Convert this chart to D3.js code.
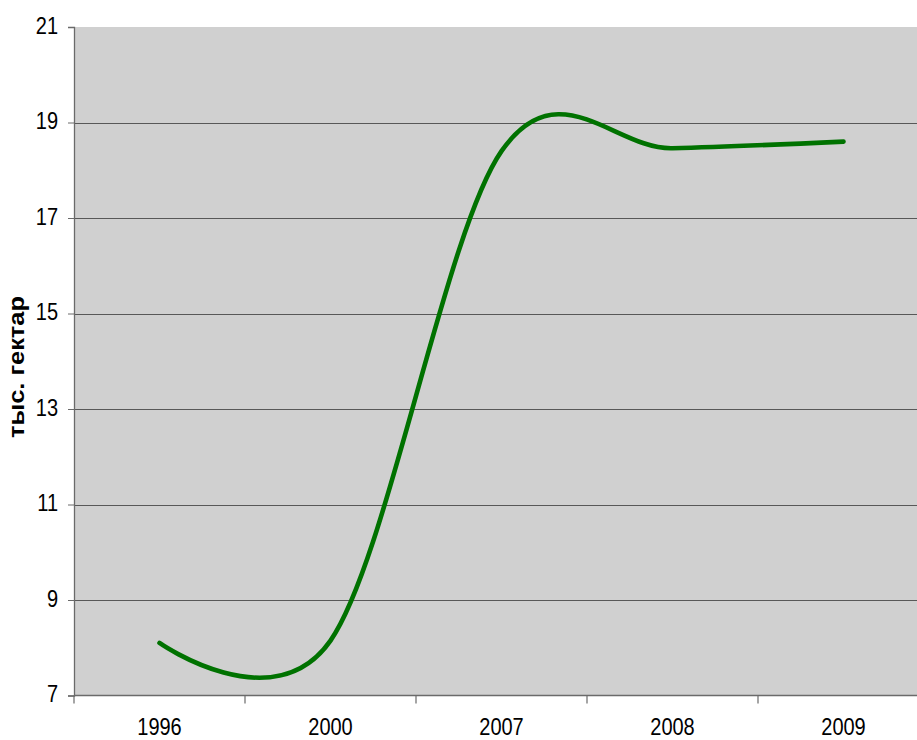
<!DOCTYPE html>
<html>
<head>
<meta charset="utf-8">
<script src="https://cdn.jsdelivr.net/npm/d3@7"></script>
<style>
  html, body { margin: 0; padding: 0; background: #ffffff; }
  svg { display: block; }
  text { font-family: "Liberation Sans", Arial, sans-serif; fill: #000; }
</style>
</head>
<body>
<svg id="chart" width="917" height="740"></svg>
<script>
// Площадь, тыс. гектар
const years = ["1996", "2000", "2007", "2008", "2009"];
const area = [8.1, 8.15, 18.4, 18.46, 18.6];
const yTicks = [7, 9, 11, 13, 15, 17, 19, 21];
const yTitle = "тыс. гектар";

const plotLeft = 74, plotRight = 929, plotTop = 27, plotBottom = 695.5;
const stretch = 1.2; // tall, narrow lettering
const labelSize = 20;

const svg = d3.select("#chart");

const x = d3.scaleBand().domain(years).range([plotLeft, plotRight]).padding(0);
const y = d3.scaleLinear().domain([7, 21]).range([plotBottom, plotTop]);

// plot background
svg.append("rect")
  .attr("x", plotLeft).attr("y", plotTop)
  .attr("width", plotRight - plotLeft).attr("height", plotBottom - plotTop)
  .attr("fill", "#d0d0d0");

// horizontal gridlines
svg.append("g")
  .selectAll("line")
  .data(yTicks.filter(v => v > 7 && v < 21))
  .join("line")
  .attr("x1", plotLeft).attr("x2", plotRight)
  .attr("y1", d => Math.round(y(d)) + 0.5).attr("y2", d => Math.round(y(d)) + 0.5)
  .attr("stroke", "#585858").attr("stroke-width", 1);

// y axis
const yAxis = svg.append("g")
  .attr("transform", `translate(${plotLeft},0)`)
  .call(d3.axisLeft(y).tickValues(yTicks).tickSize(6).tickPadding(10).tickFormat(d3.format("d")));
yAxis.select(".domain").attr("stroke", "#6a6a6a").attr("stroke-width", 1.3);
yAxis.selectAll(".tick line").attr("stroke", "#6a6a6a");
yAxis.selectAll(".tick text")
  .attr("font-size", labelSize)
  .attr("dy", "0.25em")
  .attr("transform", `scale(1,${stretch})`)
  .style("font-family", "'Liberation Sans', Arial, sans-serif")
  .attr("fill", "#000");

// x axis: baseline, ticks at category boundaries, labels at centres
svg.append("line")
  .attr("x1", plotLeft).attr("x2", plotRight)
  .attr("y1", plotBottom).attr("y2", plotBottom)
  .attr("stroke", "#6a6a6a").attr("stroke-width", 1.3);

const bounds = years.map(d => x(d)).concat([x.range()[1]]);
svg.append("g")
  .selectAll("line")
  .data(bounds)
  .join("line")
  .attr("x1", d => d).attr("x2", d => d)
  .attr("y1", plotBottom).attr("y2", plotBottom + 8)
  .attr("stroke", "#6a6a6a").attr("stroke-width", 1.2);

svg.append("g")
  .selectAll("text")
  .data(years)
  .join("text")
  .attr("transform", d => `translate(${x(d) + x.bandwidth() / 2},${plotBottom}) scale(1,${stretch})`)
  .attr("y", 32.9)
  .attr("text-anchor", "middle")
  .attr("font-size", labelSize)
  .text(d => d);

// y title
svg.append("text")
  .attr("transform", "translate(24,367) rotate(-90) scale(1.13,1)")
  .attr("text-anchor", "middle")
  .attr("font-size", 22.5)
  .attr("font-weight", "bold")
  .text(yTitle);

// smoothed line
const pts = years.map((d, i) => ({ year: d, v: area[i] }));
const line = d3.line()
  .x(d => x(d.year) + x.bandwidth() / 2)
  .y(d => y(d.v))
  .curve(d3.curveCardinal.tension(0));

svg.append("path")
  .datum(pts)
  .attr("d", line)
  .attr("fill", "none")
  .attr("stroke", "#007200")
  .attr("stroke-width", 4.6)
  .attr("stroke-linejoin", "round")
  .attr("stroke-linecap", "round");
</script>
</body>
</html>
